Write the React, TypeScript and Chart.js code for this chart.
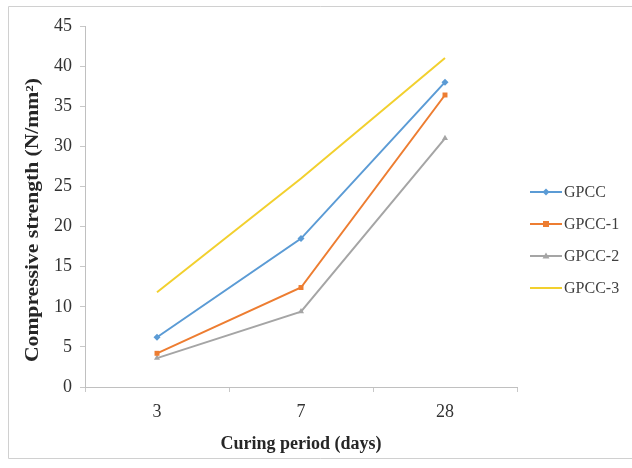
import React, { useEffect, useRef } from "react";
import { Chart, registerables } from "chart.js";

Chart.register(...registerables);

const categories = ["3", "7", "28"];
const seriesNames = ["GPCC", "GPCC-1", "GPCC-2", "GPCC-3"];
const gpcc = [6.2, 18.5, 38.0];
const gpcc1 = [4.2, 12.4, 36.4];
const gpcc2 = [3.6, 9.4, 31.0];
const gpcc3 = [11.8, 26.0, 41.0];
const yTicks = [0, 5, 10, 15, 20, 25, 30, 35, 40, 45];
const yTitle = "Compressive strength (N/mm²)";

const colors = ["#5B9BD5", "#ED7D31", "#A5A5A5", "#F2D02E"];
const markers = ["rectRot", "rect", "triangle", false] as any[];
const FONT = "'Liberation Serif', 'Times New Roman', serif";

const framePlugin = {
  id: "frame",
  beforeDraw(chart: any) {
    const ctx = chart.ctx;
    ctx.save();
    ctx.fillStyle = "#ffffff";
    ctx.fillRect(0, 0, chart.width, chart.height);
    ctx.strokeStyle = "#d0d0d0";
    ctx.lineWidth = 1;
    ctx.beginPath();
    ctx.moveTo(632, 6.5);
    ctx.lineTo(8.5, 6.5);
    ctx.lineTo(8.5, 458.5);
    ctx.lineTo(632, 458.5);
    ctx.stroke();
    ctx.restore();
  },
};

const yTitlePlugin = {
  id: "yTitleStretched",
  afterDraw(chart: any) {
    const ctx = chart.ctx;
    ctx.save();
    ctx.translate(33, 220);
    ctx.rotate(-Math.PI / 2);
    ctx.scale(1.2, 1);
    ctx.fillStyle = "#262626";
    ctx.font = `bold 18px ${FONT}`;
    ctx.textAlign = "center";
    ctx.textBaseline = "middle";
    ctx.fillText(yTitle, 0, 0);
    ctx.restore();
  },
};

const legendPlugin = {
  id: "sideLegend",
  afterDraw(chart: any) {
    const ctx = chart.ctx;
    ctx.save();
    const x0 = 530;
    const startY = 192;
    const step = 32;
    chart.data.datasets.forEach((ds: any, i: number) => {
      const y = startY + i * step;
      ctx.strokeStyle = ds.borderColor;
      ctx.lineWidth = 2;
      ctx.beginPath();
      ctx.moveTo(x0, y);
      ctx.lineTo(x0 + 32, y);
      ctx.stroke();
      if (ds.pointStyle) {
        ctx.fillStyle = ds.borderColor;
        const cx = x0 + 16;
        const r = 3.5;
        ctx.beginPath();
        if (ds.pointStyle === "rectRot") {
          ctx.moveTo(cx, y - r);
          ctx.lineTo(cx + r, y);
          ctx.lineTo(cx, y + r);
          ctx.lineTo(cx - r, y);
        } else if (ds.pointStyle === "rect") {
          ctx.rect(cx - 3, y - 3, 6, 6);
        } else {
          ctx.moveTo(cx, y - r);
          ctx.lineTo(cx + r, y + r * 0.7);
          ctx.lineTo(cx - r, y + r * 0.7);
        }
        ctx.closePath();
        ctx.fill();
      }
      ctx.fillStyle = "#404040";
      ctx.font = `16px ${FONT}`;
      ctx.textBaseline = "middle";
      ctx.textAlign = "left";
      ctx.fillText(ds.label, x0 + 34, y + 1);
    });
    ctx.restore();
  },
};

export default function App() {
  const ref = useRef<HTMLCanvasElement | null>(null);
  useEffect(() => {
    document.body.style.margin = "0";
    const seriesData = [gpcc, gpcc1, gpcc2, gpcc3];
    const chart = new Chart(ref.current as HTMLCanvasElement, {
      type: "line",
      data: {
        labels: categories,
        datasets: seriesNames.map((name, i) => ({
          label: name,
          data: seriesData[i],
          borderColor: colors[i],
          backgroundColor: colors[i],
          borderWidth: 2,
          pointStyle: markers[i],
          pointRadius: markers[i] ? 3.5 : 0,
          pointBorderWidth: 0,
          tension: 0,
        })),
      },
      options: {
        animation: false,
        responsive: false,
        layout: { padding: { left: 25, top: 26, right: 115, bottom: 13 } },
        plugins: { legend: { display: false }, tooltip: { enabled: false } },
        scales: {
          x: {
            type: "category",
            offset: true,
            grid: {
              display: true,
              drawOnChartArea: false,
              drawTicks: true,
              tickLength: 5,
              offset: true,
              color: "#c8c8c8",
            },
            border: { color: "#c0c0c0", width: 1 },
            ticks: {
              color: "#333333",
              font: { family: FONT, size: 18 },
              padding: 9,
            },
            title: {
              display: true,
              text: "Curing period (days)",
              color: "#262626",
              font: { family: FONT, size: 18, weight: "bold" },
              padding: { top: 4, bottom: 0 },
            },
            afterFit(scale: any) {
              scale.height = 68;
            },
          },
          y: {
            min: 0,
            max: 45,
            afterBuildTicks(scale: any) {
              scale.ticks = yTicks.map((v) => ({ value: v }));
            },
            grid: {
              display: true,
              drawOnChartArea: false,
              drawTicks: true,
              tickLength: 5,
              color: "#c8c8c8",
            },
            border: { color: "#c0c0c0", width: 1 },
            ticks: {
              color: "#333333",
              font: { family: FONT, size: 18 },
              padding: 8,
            },
            title: { display: false },
            afterFit(scale: any) {
              scale.width = 60;
            },
          },
        },
      },
      plugins: [framePlugin, yTitlePlugin, legendPlugin],
    } as any);
    return () => chart.destroy();
  }, []);
  return (
    <div style={{ width: 632, height: 468 }}>
      <canvas ref={ref} width={632} height={468} style={{ display: "block" }} />
    </div>
  );
}
